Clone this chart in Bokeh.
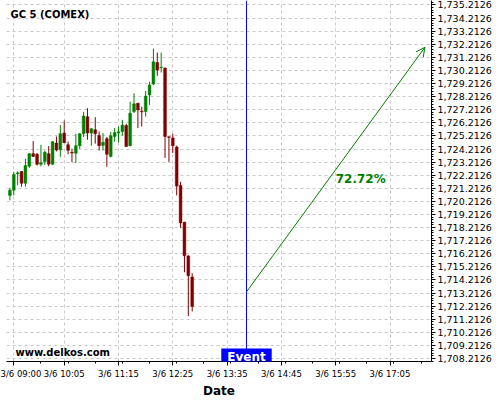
from bokeh.plotting import figure
from bokeh.models import (FixedTicker, NumeralTickFormatter, CustomJSTickFormatter, Span,
                          Label, Arrow, OpenHead, Range1d, ColumnDataSource)
from bokeh.embed import file_html
from bokeh.resources import INLINE

# ---- data -------------------------------------------------------------
times = ["08:55", "09:00", "09:05", "09:10", "09:15", "09:20", "09:25", "09:30",
         "09:35", "09:40", "09:45", "09:50", "09:55", "10:00", "10:05", "10:10",
         "10:15", "10:20", "10:25", "10:30", "10:35", "10:40", "10:45", "10:50",
         "10:55", "11:00", "11:05", "11:10", "11:15", "11:20", "11:25", "11:30",
         "11:35", "11:40", "11:45", "11:50", "11:55", "12:00", "12:05", "12:10",
         "12:15", "12:20", "12:25", "12:30", "12:35", "12:40", "12:45", "12:50"]
opens = [1720.67, 1721.07, 1722.32, 1722.49, 1721.60, 1722.89, 1723.86, 1723.81,
         1723.05, 1723.25, 1723.86, 1723.05, 1724.67, 1724.16, 1725.43, 1724.54,
         1723.96, 1723.88, 1724.47, 1725.38, 1726.67, 1725.43, 1725.68, 1725.25,
         1724.49, 1725.00, 1723.65, 1725.17, 1725.43, 1725.55, 1726.01, 1724.47,
         1727.07, 1727.71, 1727.10, 1727.07, 1728.34, 1729.17, 1730.82, 1730.41,
         1730.39, 1725.15, 1725.05, 1724.37, 1721.43, 1718.62, 1716.04, 1714.44]
highs = [1721.25, 1722.47, 1722.51, 1722.52, 1723.46, 1723.91, 1724.82, 1723.91,
         1724.52, 1724.09, 1724.44, 1724.82, 1725.17, 1726.04, 1726.39, 1724.79,
         1724.24, 1725.38, 1725.43, 1727.05, 1727.33, 1725.81, 1726.65, 1725.55,
         1725.43, 1725.13, 1725.51, 1725.81, 1725.93, 1726.44, 1726.14, 1727.83,
         1728.47, 1727.73, 1727.45, 1728.64, 1729.35, 1731.88, 1731.58, 1731.58,
         1730.44, 1725.17, 1725.38, 1724.47, 1721.71, 1718.65, 1716.11, 1714.72]
lows = [1720.29, 1720.67, 1721.45, 1721.33, 1721.33, 1722.77, 1723.61, 1722.95,
        1722.89, 1723.00, 1722.89, 1723.00, 1724.03, 1723.61, 1724.67, 1723.81,
        1723.20, 1723.15, 1724.22, 1725.13, 1724.92, 1724.47, 1724.62, 1724.09,
        1724.09, 1722.85, 1723.58, 1724.77, 1724.72, 1725.23, 1724.37, 1724.41,
        1726.95, 1725.81, 1725.93, 1726.69, 1727.58, 1729.10, 1729.80, 1730.06,
        1723.53, 1723.23, 1723.91, 1720.67, 1718.19, 1714.80, 1711.46, 1711.81]
closes = [1721.07, 1722.26, 1722.39, 1721.60, 1722.95, 1723.86, 1723.65, 1723.05,
          1723.17, 1723.96, 1723.05, 1724.77, 1724.14, 1725.38, 1724.69, 1724.11,
          1723.91, 1724.47, 1725.38, 1726.74, 1725.43, 1725.76, 1725.38, 1724.47,
          1724.72, 1723.81, 1725.23, 1725.48, 1725.53, 1726.04, 1724.41, 1726.95,
          1727.66, 1727.20, 1727.05, 1728.26, 1729.10, 1730.87, 1730.24, 1730.46,
          1725.17, 1725.10, 1724.47, 1721.38, 1718.57, 1716.06, 1714.54, 1712.19]

event_time = "14:00"
arrow_start = ("14:00", 1713.30)
arrow_end = ("17:50", 1731.98)
pct_text = "72.72%"
title_text = "GC 5 (COMEX)"
site_text = "www.delkos.com"
x_tick_times = ["09:00", "10:05", "11:15", "12:25", "13:35", "14:45", "15:55", "17:05"]
y_ticks = [round(1708.2126 + k, 4) for k in range(28)]


def to_min(s):
    h, m = s.split(":")
    return int(h) * 60 + int(m)


xs = [to_min(t) for t in times]
up = [c >= o for o, c in zip(opens, closes)]
GREEN = "#008000"
RED = "#800000"
src = ColumnDataSource(dict(
    x=xs, high=highs, low=lows,
    top=[max(o, c) for o, c in zip(opens, closes)],
    bottom=[min(o, c) for o, c in zip(opens, closes)],
    color=[GREEN if u else RED for u in up],
))

FONT = "DejaVu Sans"

p = figure(width=500, height=400, output_backend="svg", toolbar_location=None,
           x_range=Range1d(530.6, 1078.5), y_range=Range1d(1707.985, 1735.554),
           y_axis_location="right", min_border_left=6, min_border_top=0,
           min_border_right=69, min_border_bottom=36)
p.outline_line_color = None
p.background_fill_color = "white"
p.border_fill_color = "white"

# grid
for g in (p.xgrid, p.ygrid):
    g.grid_line_color = "#c8c8c8"
    g.grid_line_dash = "3 3"
    g.grid_line_width = 1

# y axis
p.yaxis.ticker = FixedTicker(ticks=y_ticks,
                             minor_ticks=[round(1708.0126 + 0.2 * k, 4) for k in range(140)])
p.yaxis.formatter = NumeralTickFormatter(format="0,0.0000")
p.yaxis.major_label_text_font = FONT
p.yaxis.major_label_text_font_size = "9.5px"
p.yaxis.major_label_text_color = "#000000"
p.yaxis.major_tick_out = 4
p.yaxis.major_tick_in = 0
p.yaxis.minor_tick_out = 2
p.yaxis.minor_tick_in = 0
p.yaxis.major_label_standoff = 2
p.yaxis.axis_line_color = "#000000"

# x axis
x_ticks = [to_min(t) for t in x_tick_times]
p.xaxis.ticker = FixedTicker(ticks=x_ticks,
                             minor_ticks=[540 - 35 + 35 * k for k in range(20)])
p.xaxis.formatter = CustomJSTickFormatter(code="""
const h = Math.floor(tick / 60), m = Math.round(tick % 60);
return '3/6 ' + String(h).padStart(2, '0') + ':' + String(m).padStart(2, '0');
""")
p.xaxis.major_label_text_font = FONT
p.xaxis.major_label_text_font_size = "8.5px"
p.xaxis.major_label_text_color = "#000000"
p.xaxis.major_tick_out = 4
p.xaxis.major_tick_in = 0
p.xaxis.minor_tick_out = 2
p.xaxis.minor_tick_in = 0
p.xaxis.major_label_standoff = 3
p.xaxis.axis_label = "Date"
p.xaxis.axis_label_text_font = FONT
p.xaxis.axis_label_text_font_size = "12px"
p.xaxis.axis_label_text_font_style = "bold"
p.xaxis.axis_label_text_color = "#000000"
p.xaxis.axis_label_standoff = 2
p.xaxis.axis_line_color = "#000000"

# candles
p.segment(x0="x", y0="low", x1="x", y1="high", color="color", line_width=1, source=src)
p.vbar(x="x", width=3.6, top="top", bottom="bottom", fill_color="color",
       line_color="color", line_width=0.5, source=src)

# event line + label
ev = to_min(event_time)
p.add_layout(Span(location=ev, dimension="height", line_color="#0000ff", line_width=1))
ev_label = Label(x=ev, y=-4, x_units="data", y_units="screen", text="Event",
                 text_align="center", text_baseline="bottom", text_color="white",
                 text_font=FONT, text_font_style="bold", text_font_size="12px",
                 background_fill_color="#0000ff")
try:
    ev_label.padding = dict(left=6, right=6, top=1, bottom=2)
except Exception:
    ev_label.padding = 2
p.add_layout(ev_label)

# arrow and percentage
ax0, ay0 = to_min(arrow_start[0]), arrow_start[1]
ax1, ay1 = to_min(arrow_end[0]), arrow_end[1]
p.add_layout(Arrow(end=OpenHead(size=9, line_color=GREEN, line_width=1),
                   x_start=ax0, y_start=ay0, x_end=ax1, y_end=ay1,
                   line_color=GREEN, line_width=1))
p.add_layout(Label(x=(ax0 + ax1) / 2, y=(ay0 + ay1) / 2 - 0.7, text=pct_text,
                   text_align="left", text_baseline="middle", text_color=GREEN,
                   text_font=FONT, text_font_style="bold", text_font_size="12px"))

# title & site
p.add_layout(Label(x=4, y=347, x_units="screen", y_units="screen", text=title_text,
                   text_align="left", text_baseline="middle", text_color="#000000",
                   text_font=FONT, text_font_style="bold", text_font_size="10px"))
p.add_layout(Label(x=9, y=9, x_units="screen", y_units="screen", text=site_text,
                   text_align="left", text_baseline="middle", text_color="#000000",
                   text_font=FONT, text_font_style="bold", text_font_size="10px"))

open("out.html", "w").write(file_html(p, INLINE))
